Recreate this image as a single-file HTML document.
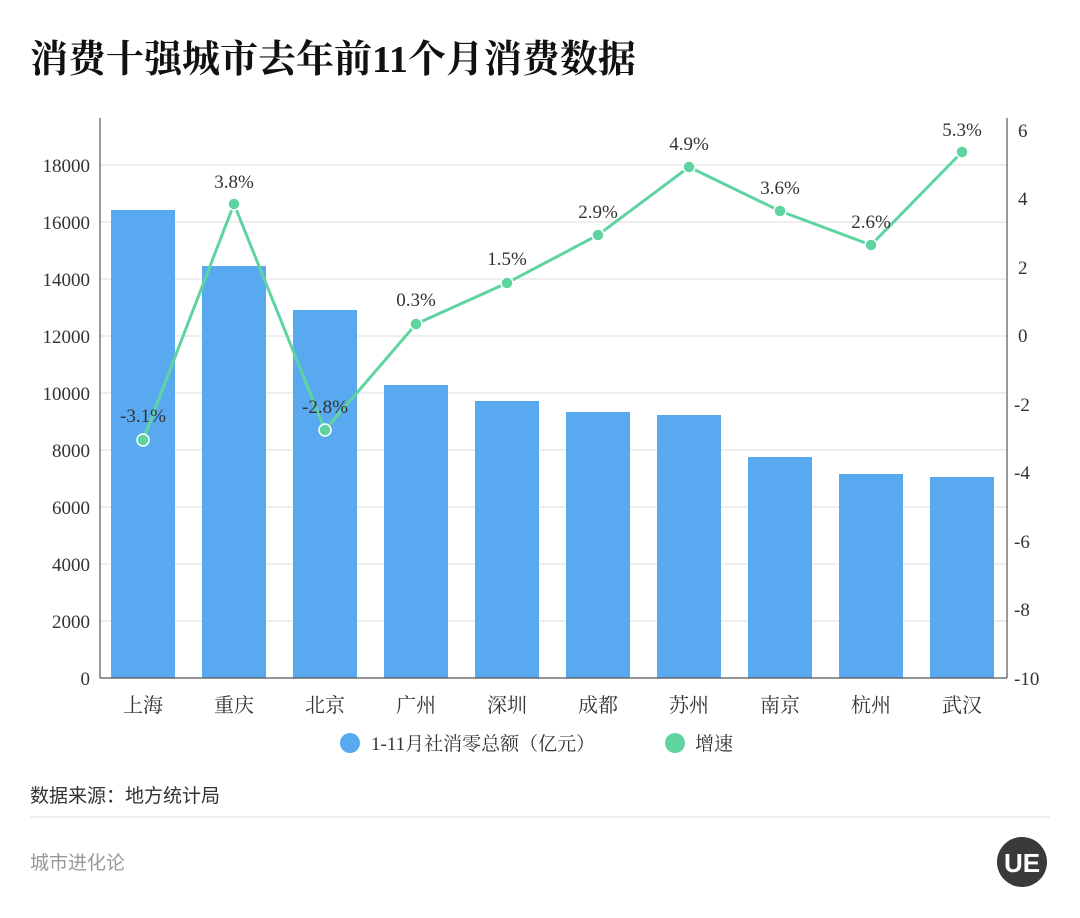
<!DOCTYPE html>
<html><head><meta charset="utf-8"><style>
body{margin:0;background:#fff;}
svg{display:block;}
</style></head><body>
<svg width="1080" height="918" xmlns="http://www.w3.org/2000/svg" font-family="'Liberation Serif','Noto Serif CJK SC',serif">
<rect width="1080" height="918" fill="#fff"/>
<text x="30" y="72" font-family="'Liberation Serif','Noto Serif CJK SC',serif" font-weight="bold" font-size="38" fill="#111">消费十强城市去年前11个月消费数据</text>
<g stroke="#ddd" stroke-width="1">
<line x1="100" y1="165" x2="1007" y2="165"/>
<line x1="100" y1="222" x2="1007" y2="222"/>
<line x1="100" y1="279" x2="1007" y2="279"/>
<line x1="100" y1="336" x2="1007" y2="336"/>
<line x1="100" y1="393" x2="1007" y2="393"/>
<line x1="100" y1="450" x2="1007" y2="450"/>
<line x1="100" y1="507" x2="1007" y2="507"/>
<line x1="100" y1="564" x2="1007" y2="564"/>
<line x1="100" y1="621" x2="1007" y2="621"/>
</g>
<g fill="#58a9ef">
<rect x="111" y="210" width="64" height="468"/>
<rect x="202" y="266" width="64" height="412"/>
<rect x="293" y="310" width="64" height="368"/>
<rect x="384" y="385" width="64" height="293"/>
<rect x="475" y="401" width="64" height="277"/>
<rect x="566" y="412" width="64" height="266"/>
<rect x="657" y="415" width="64" height="263"/>
<rect x="748" y="457" width="64" height="221"/>
<rect x="839" y="474" width="64" height="204"/>
<rect x="930" y="477" width="64" height="201"/>
</g>
<g stroke="#555" stroke-width="1.2">
<line x1="100" y1="118" x2="100" y2="678"/>
<line x1="1007" y1="118" x2="1007" y2="678"/>
<line x1="100" y1="678" x2="1007" y2="678"/>
</g>
<g font-size="19" fill="#333" text-anchor="end">
<text x="90" y="172">18000</text><text x="90" y="229">16000</text><text x="90" y="286">14000</text>
<text x="90" y="343">12000</text><text x="90" y="400">10000</text><text x="90" y="457">8000</text>
<text x="90" y="514">6000</text><text x="90" y="571">4000</text><text x="90" y="628">2000</text><text x="90" y="685">0</text>
</g>
<g font-size="19" fill="#333">
<text x="1018" y="137">6</text><text x="1018" y="205">4</text><text x="1018" y="274">2</text>
<text x="1018" y="342">0</text><text x="1014" y="411">-2</text><text x="1014" y="479">-4</text>
<text x="1014" y="548">-6</text><text x="1014" y="616">-8</text><text x="1014" y="685">-10</text>
</g>
<g font-size="20" fill="#333" text-anchor="middle" font-family="'Liberation Sans','Noto Serif CJK SC',serif">
<text x="143" y="712">上海</text><text x="234" y="712">重庆</text><text x="325" y="712">北京</text>
<text x="416" y="712">广州</text><text x="507" y="712">深圳</text><text x="598" y="712">成都</text>
<text x="689" y="712">苏州</text><text x="780" y="712">南京</text><text x="871" y="712">杭州</text><text x="962" y="712">武汉</text>
</g>
<polyline fill="none" stroke="#5fd4a0" stroke-width="3" points="143,440 234,204 325,430 416,324 507,283 598,235 689,167 780,211 871,245 962,152"/>
<g fill="#5fd4a0" stroke="#fff" stroke-width="1.5">
<circle cx="143" cy="440" r="6"/><circle cx="234" cy="204" r="6"/><circle cx="325" cy="430" r="6"/>
<circle cx="416" cy="324" r="6"/><circle cx="507" cy="283" r="6"/><circle cx="598" cy="235" r="6"/>
<circle cx="689" cy="167" r="6"/><circle cx="780" cy="211" r="6"/><circle cx="871" cy="245" r="6"/><circle cx="962" cy="152" r="6"/>
</g>
<g font-size="19" fill="#333" text-anchor="middle">
<text x="143" y="422">-3.1%</text><text x="234" y="188">3.8%</text><text x="325" y="413">-2.8%</text>
<text x="416" y="306">0.3%</text><text x="507" y="265">1.5%</text><text x="598" y="218">2.9%</text>
<text x="689" y="150">4.9%</text><text x="780" y="194">3.6%</text><text x="871" y="228">2.6%</text><text x="962" y="136">5.3%</text>
</g>
<circle cx="350" cy="743" r="10" fill="#58a9ef"/>
<text x="371" y="750" font-size="19" fill="#333">1-11月社消零总额（亿元）</text>
<circle cx="675" cy="743" r="10" fill="#5fd4a0"/>
<text x="695" y="750" font-size="19" fill="#333">增速</text>
<text x="30" y="802" font-size="19" fill="#333" font-family="'Liberation Sans','Noto Sans CJK SC',sans-serif">数据来源：地方统计局</text>
<line x1="30" y1="817" x2="1050" y2="817" stroke="#ddd"/>
<text x="30" y="869" font-size="19" fill="#999" font-family="'Liberation Sans','Noto Sans CJK SC',sans-serif">城市进化论</text>
<circle cx="1022" cy="862" r="25" fill="#3a3a3a"/>
<text x="1022" y="872" font-size="26" fill="#fff" text-anchor="middle" font-family="'Liberation Sans',sans-serif" font-weight="bold">UE</text>
</svg>
</body></html>
